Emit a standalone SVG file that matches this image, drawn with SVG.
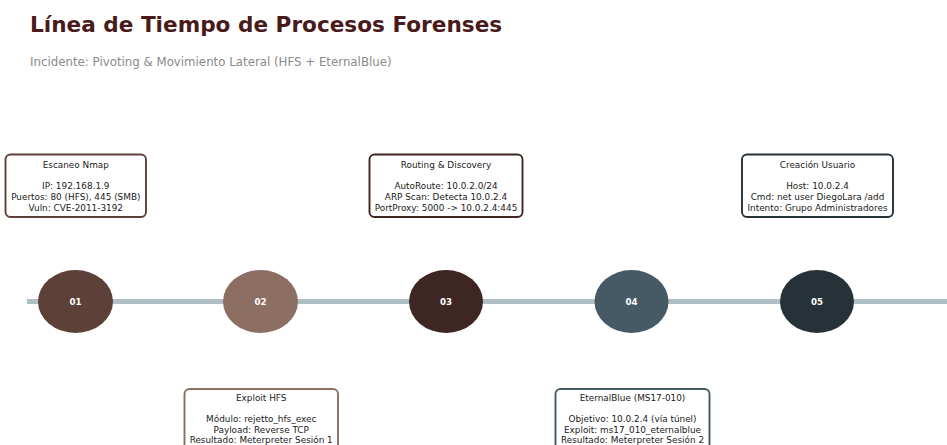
<svg xmlns="http://www.w3.org/2000/svg" width="947" height="445" viewBox="0 0 947 445">
<style>
.title{font-family:"DejaVu Sans",sans-serif;font-weight:bold;font-size:21.6px;fill:#4a1a1a}
.sub{font-family:"DejaVu Sans",sans-serif;font-size:11.8px;fill:#8a8a8a}
.num{font-family:"DejaVu Sans",sans-serif;font-weight:bold;font-size:8.7px;fill:#ffffff;text-anchor:middle}
.box{fill:#ffffff;stroke-width:1.9}
.bt{font-family:"DejaVu Sans",sans-serif;font-size:8.9px;fill:#1a1a1a;text-anchor:middle}
</style>
<rect width="947" height="445" fill="#ffffff"/>
<text class="title" x="30" y="32">Línea de Tiempo de Procesos Forenses</text>
<text class="sub" x="30" y="66">Incidente: Pivoting &amp; Movimiento Lateral (HFS + EternalBlue)</text>
<g id="connectors">
<line x1="27" y1="301.5" x2="947" y2="301.5" stroke="#b0bec5" stroke-width="5"/>
</g>
<g id="n01">
<ellipse cx="75.5" cy="301.5" rx="37.5" ry="31.5" fill="#5d4037"/>
<text class="num" x="75.5" y="304.6">01</text>
<rect class="box" x="5.5" y="154.5" width="140.5" height="62.5" rx="5" stroke="#5d4037"/>
<text class="bt" x="75.8" y="168">Escaneo Nmap</text>
<text class="bt" x="75.8" y="189.4">IP: 192.168.1.9</text>
<text class="bt" x="75.8" y="200.1">Puertos: 80 (HFS), 445 (SMB)</text>
<text class="bt" x="75.8" y="210.8">Vuln: CVE-2011-3192</text>
</g>
<g id="n02">
<ellipse cx="260.5" cy="301.5" rx="37.5" ry="31.5" fill="#8d6e63"/>
<text class="num" x="260.5" y="304.6">02</text>
<rect class="box" x="184.5" y="389" width="153.5" height="62" rx="5" stroke="#8d6e63"/>
<text class="bt" x="261.2" y="400.5">Exploit HFS</text>
<text class="bt" x="261.2" y="421.9">Módulo: rejetto_hfs_exec</text>
<text class="bt" x="261.2" y="432.6">Payload: Reverse TCP</text>
<text class="bt" x="261.2" y="443.3">Resultado: Meterpreter Sesión 1</text>
</g>
<g id="n03">
<ellipse cx="446" cy="301.5" rx="37" ry="31.5" fill="#3e2723"/>
<text class="num" x="446" y="304.6">03</text>
<rect class="box" x="369.5" y="154.5" width="153" height="62.5" rx="5" stroke="#3e2723"/>
<text class="bt" x="446" y="168">Routing &amp; Discovery</text>
<text class="bt" x="446" y="189.4">AutoRoute: 10.0.2.0/24</text>
<text class="bt" x="446" y="200.1">ARP Scan: Detecta 10.0.2.4</text>
<text class="bt" x="446" y="210.8">PortProxy: 5000 -&gt; 10.0.2.4:445</text>
</g>
<g id="n04">
<ellipse cx="631.5" cy="301.5" rx="37" ry="31.5" fill="#455a64"/>
<text class="num" x="631.5" y="304.6">04</text>
<rect class="box" x="555.5" y="389" width="154" height="62" rx="5" stroke="#455a64"/>
<text class="bt" x="632.5" y="400.5">EternalBlue (MS17-010)</text>
<text class="bt" x="632.5" y="421.9">Objetivo: 10.0.2.4 (vía túnel)</text>
<text class="bt" x="632.5" y="432.6">Exploit: ms17_010_eternalblue</text>
<text class="bt" x="632.5" y="443.3">Resultado: Meterpreter Sesión 2</text>
</g>
<g id="n05">
<ellipse cx="817" cy="301.5" rx="37" ry="31.5" fill="#263238"/>
<text class="num" x="817" y="304.6">05</text>
<rect class="box" x="742" y="154.5" width="151" height="62.5" rx="5" stroke="#263238"/>
<text class="bt" x="817.5" y="168">Creación Usuario</text>
<text class="bt" x="817.5" y="189.4">Host: 10.0.2.4</text>
<text class="bt" x="817.5" y="200.1">Cmd: net user DiegoLara /add</text>
<text class="bt" x="817.5" y="210.8">Intento: Grupo Administradores</text>
</g>
</svg>
